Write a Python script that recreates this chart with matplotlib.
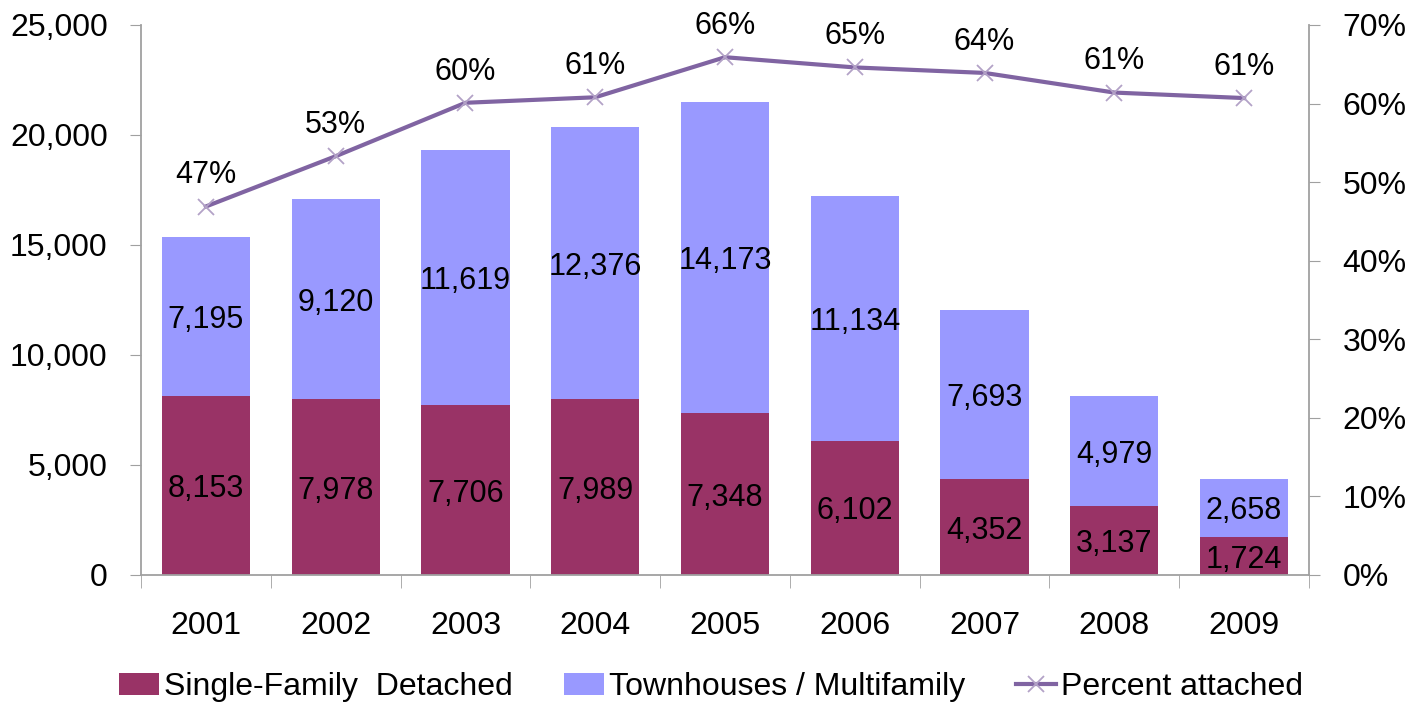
import matplotlib.pyplot as plt
import numpy as np

plt.rcParams['font.family'] = ['Liberation Sans', 'DejaVu Sans']

years = ['2001', '2002', '2003', '2004', '2005', '2006', '2007', '2008', '2009']
single_family = [8153, 7978, 7706, 7989, 7348, 6102, 4352, 3137, 1724]
townhouses = [7195, 9120, 11619, 12376, 14173, 11134, 7693, 4979, 2658]
pct_attached = [0.469, 0.533, 0.601, 0.608, 0.659, 0.646, 0.639, 0.614, 0.607]
pct_labels = ['47%', '53%', '60%', '61%', '66%', '65%', '64%', '61%', '61%']

sf_color = '#993366'
th_color = '#9999FF'
line_color = '#8064A2'
spine_color = '#A0A0A0'

fig = plt.figure(figsize=(14.22, 7.14), dpi=100)
ax = fig.add_axes([141 / 1422, 1 - 575 / 714, 1168 / 1422, 550 / 714])
x = np.arange(len(years))
w = 0.68

b1 = ax.bar(x, single_family, w, color=sf_color, label='Single-Family  Detached', zorder=2)
b2 = ax.bar(x, townhouses, w, bottom=single_family, color=th_color,
            label='Townhouses / Multifamily', zorder=2)

# value labels in the middle of each segment
for i in range(len(years)):
    ax.text(x[i], single_family[i] / 2, f'{single_family[i]:,}',
            ha='center', va='center_baseline', fontsize=22, zorder=3)
    ax.text(x[i], single_family[i] + townhouses[i] / 2, f'{townhouses[i]:,}',
            ha='center', va='center_baseline', fontsize=22, zorder=3)

ax.set_xlim(-0.5, len(years) - 0.5)
ax.set_ylim(0, 25000)
ax.set_yticks(np.arange(0, 25001, 5000))
ax.set_yticklabels([f'{v:,}' for v in range(0, 25001, 5000)], fontsize=23)
ax.set_xticks(x)
ax.set_xticklabels(years, fontsize=23)
ax.set_xticks(np.arange(-0.5, len(years), 1), minor=True)
ax.tick_params(axis='x', which='major', length=0, pad=26)
ax.tick_params(axis='x', which='minor', length=9, color=spine_color, direction='out')
ax.tick_params(axis='y', length=8, color=spine_color, direction='out', pad=16)
for s in ['top', 'right']:
    ax.spines[s].set_visible(False)
for s in ['left', 'bottom']:
    ax.spines[s].set_color(spine_color)
    ax.spines[s].set_linewidth(1.3)

ax2 = ax.twinx()
ln, = ax2.plot(x, pct_attached, color=line_color, lw=3, marker='x', markersize=12,
               markeredgecolor='#B3A2C7', markeredgewidth=1.3, label='Percent attached', zorder=4)
for i in range(len(years)):
    ax2.text(x[i], pct_attached[i] + 0.0295, pct_labels[i], ha='center', va='baseline', fontsize=22)
ax2.set_ylim(0, 0.7)
ax2.set_yticks(np.arange(0, 0.71, 0.1))
ax2.set_yticklabels([f'{int(round(v * 100))}%' for v in np.arange(0, 0.71, 0.1)], fontsize=23)
ax2.tick_params(axis='y', length=8, color=spine_color, direction='out', pad=16)
for s in ['top', 'left', 'bottom']:
    ax2.spines[s].set_visible(False)
ax2.spines['right'].set_color(spine_color)
ax2.spines['right'].set_linewidth(1.3)

fig.legend(handles=[b1, b2, ln], loc='center', bbox_to_anchor=(0.5, 1 - 687 / 714), ncol=3,
           frameon=False, fontsize=23, handlelength=1.25, handletextpad=0.15,
           columnspacing=1.6, borderpad=0)

fig.savefig('out.png', dpi=100)
